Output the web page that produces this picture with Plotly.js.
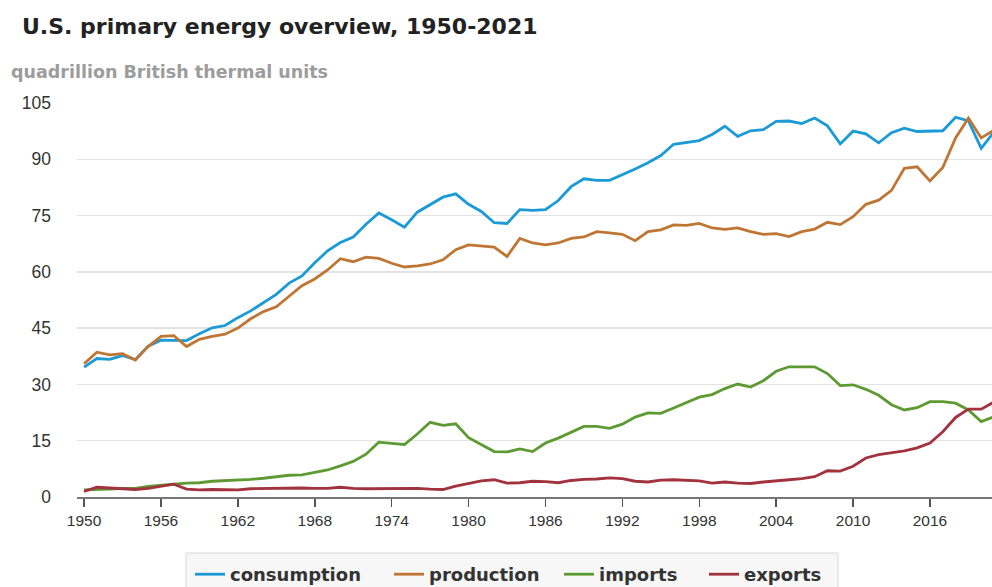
<!DOCTYPE html>
<html>
<head>
<meta charset="utf-8">
<script src="https://cdn.plot.ly/plotly-3.0.1.min.js"></script>
<style>
  html, body { margin: 0; padding: 0; background: #ffffff; }
  #chart { width: 992px; height: 587px; }
</style>
</head>
<body>
<div id="chart"></div>
<script>
const years = [];
for (let y = 1950; y <= 2021; y++) years.push(y);

const consumption = [
  34.6, 36.9, 36.7, 37.7, 36.6, 40.2, 41.8, 41.8, 41.7, 43.5,
  45.1, 45.7, 47.8, 49.6, 51.8, 54.0, 57.0, 58.9, 62.4, 65.6,
  67.8, 69.3, 72.7, 75.7, 73.9, 71.9, 75.9, 77.9, 79.9, 80.8,
  78.0, 76.1, 73.1, 72.9, 76.6, 76.4, 76.6, 79.0, 82.7, 84.8,
  84.4, 84.4, 85.8, 87.4, 89.1, 91.0, 94.0, 94.5, 95.0, 96.6,
  98.8, 96.1, 97.6, 97.9, 100.1, 100.2, 99.5, 101.0, 98.9, 94.1,
  97.5, 96.8, 94.4, 97.1, 98.3, 97.4, 97.4, 97.6, 101.2, 100.2,
  92.9, 97.3
];
const production = [
  35.5, 38.6, 37.9, 38.2, 36.5, 40.1, 42.8, 43.0, 40.1, 42.0,
  42.8, 43.4, 45.0, 47.5, 49.4, 50.7, 53.5, 56.3, 58.1, 60.5,
  63.5, 62.7, 63.9, 63.6, 62.3, 61.3, 61.6, 62.1, 63.2, 65.9,
  67.2, 67.0, 66.6, 64.1, 68.9, 67.7, 67.2, 67.7, 68.9, 69.3,
  70.7, 70.4, 70.0, 68.3, 70.7, 71.2, 72.5, 72.4, 72.9, 71.7,
  71.3, 71.7, 70.7, 70.0, 70.2, 69.4, 70.7, 71.4, 73.2, 72.6,
  74.7, 78.0, 79.1, 81.7, 87.6, 88.0, 84.2, 87.8, 95.7, 101.0,
  95.7, 97.8
];
const imports = [
  1.9, 1.9, 2.1, 2.3, 2.3, 2.8, 3.2, 3.4, 3.7, 3.8,
  4.2, 4.3, 4.6, 4.7, 5.0, 5.4, 5.8, 5.9, 6.5, 7.2,
  8.3, 9.5, 11.4, 14.6, 14.3, 14.0, 16.8, 19.9, 19.1, 19.5,
  15.8, 14.0, 12.1, 12.0, 12.8, 12.1, 14.4, 15.7, 17.3, 18.8,
  18.8, 18.3, 19.4, 21.3, 22.4, 22.3, 23.7, 25.2, 26.6, 27.3,
  28.9, 30.1, 29.3, 31.0, 33.5, 34.7, 34.7, 34.7, 32.9, 29.7,
  29.9, 28.7, 27.1, 24.6, 23.2, 23.8, 25.4, 25.4, 25.0, 23.2,
  20.1, 21.4
];
const exports = [
  1.5, 2.6, 2.4, 2.1, 2.0, 2.3, 2.9, 3.4, 2.1, 1.9,
  2.0, 2.0, 1.9, 2.2, 2.3, 2.3, 2.3, 2.4, 2.3, 2.3,
  2.6, 2.3, 2.2, 2.2, 2.4, 2.4, 2.3, 2.1, 2.0, 2.9,
  3.7, 4.3, 4.6, 3.7, 3.8, 4.2, 4.1, 3.8, 4.4, 4.7,
  4.8, 5.1, 4.9, 4.2, 4.0, 4.5, 4.6, 4.5, 4.3, 3.7,
  4.0, 3.7, 3.6, 4.0, 4.4, 4.6, 4.9, 5.4, 7.0, 6.9,
  8.2, 10.4, 11.3, 11.8, 12.3, 13.1, 14.4, 17.4, 21.2, 23.4,
  23.4, 25.3
];

const seriesNames = ['consumption', 'production', 'imports', 'exports'];
const seriesColors = ['#1b9ad6', '#bf7634', '#5d9a32', '#a3323f'];
const seriesValues = [consumption, production, imports, exports];

const xTickVals = [1950, 1956, 1962, 1968, 1974, 1980, 1986, 1992, 1998, 2004, 2010, 2016];
const yTickVals = [0, 15, 30, 45, 60, 75, 90, 105];

const legendIds = ['legend', 'legend2', 'legend3', 'legend4'];
const legendLeftPx = [190, 389, 559, 704];

const traces = seriesNames.map((name, i) => ({
  type: 'scatter',
  mode: 'lines',
  name: name,
  x: years,
  y: seriesValues[i],
  line: { color: seriesColors[i], width: 2.8 },
  legend: legendIds[i],
  hoverinfo: 'skip'
}));

const W = 992, H = 587;
const ML = 77, MR = 0, MT = 103, MB = 90;
const PW = W - ML - MR, PH = H - MT - MB;

const layout = {
  width: W,
  height: H,
  margin: { l: ML, r: MR, t: MT, b: MB },
  paper_bgcolor: '#ffffff',
  plot_bgcolor: '#ffffff',
  font: { family: 'Liberation Sans, Arial, sans-serif', color: '#333333' },
  title: {
    text: 'U.S. primary energy overview, 1950-2021',
    font: { family: 'DejaVu Sans, sans-serif', size: 22, weight: 'bold', color: '#222222' },
    xref: 'container', yref: 'container',
    x: 22 / W, xanchor: 'left',
    y: 1 - 26 / H, yanchor: 'middle'
  },
  annotations: [{
    text: 'quadrillion British thermal units',
    xref: 'paper', yref: 'paper',
    x: (9 - ML) / PW, xanchor: 'left',
    y: (H - MB - 72) / PH, yanchor: 'middle',
    showarrow: false,
    font: { family: 'DejaVu Sans, sans-serif', size: 17.5, weight: 'bold', color: '#9c9c9c' }
  }],
  shapes: [{
    type: 'rect',
    xref: 'paper', yref: 'paper',
    x0: (186 - ML) / PW, x1: (838 - ML) / PW,
    y0: (H - MB - 553) / PH, y1: (H - MB - 600) / PH,
    fillcolor: '#f7f7f7',
    line: { color: '#d9d9d9', width: 1 },
    layer: 'above'
  }],
  xaxis: {
    range: [1949.45, 2020.84],
    tickvals: xTickVals,
    ticktext: xTickVals.map(String),
    ticks: 'outside',
    ticklen: 8,
    tickwidth: 1.5,
    tickcolor: '#555555',
    showline: true,
    linecolor: '#777777',
    linewidth: 2,
    showgrid: false,
    zeroline: false,
    tickfont: { family: 'Liberation Sans, Arial, sans-serif', size: 15.5, color: '#333333' },
    fixedrange: true
  },
  yaxis: {
    range: [0, 105],
    tickvals: yTickVals,
    ticktext: yTickVals.map(String),
    showgrid: true,
    gridcolor: '#e3e3e3',
    gridwidth: 1.5,
    zeroline: false,
    showline: false,
    ticks: '',
    ticklabelstandoff: 25,
    tickfont: { family: 'Liberation Sans, Arial, sans-serif', size: 17.5, color: '#333333' },
    fixedrange: true
  },
  showlegend: true
};

legendIds.forEach((id, i) => {
  layout[id] = {
    orientation: 'h',
    xref: 'container', yref: 'container',
    x: legendLeftPx[i] / W, xanchor: 'left',
    y: 1 - 556 / H, yanchor: 'top',
    bgcolor: 'rgba(0,0,0,0)',
    borderwidth: 0,
    font: { family: 'DejaVu Sans, sans-serif', size: 18, weight: 'bold', color: '#333333' }
  };
});

Plotly.newPlot('chart', traces, layout, { displayModeBar: false, staticPlot: true });
</script>
</body>
</html>
